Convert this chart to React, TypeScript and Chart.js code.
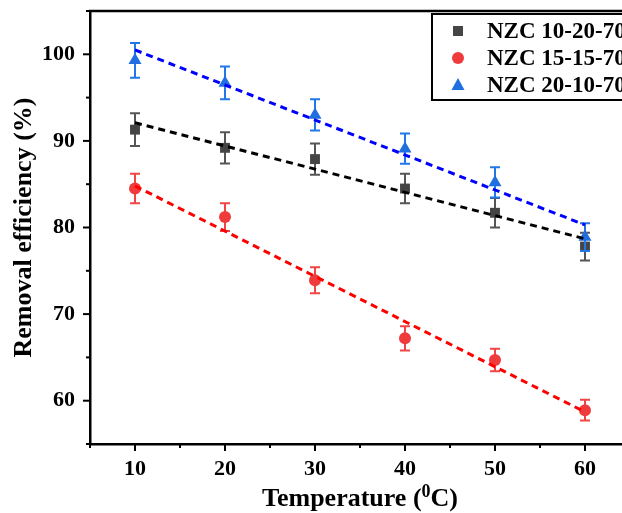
import React, { useEffect, useRef } from "react";
import { Chart, registerables } from "chart.js";
Chart.register(...registerables);

const temperatures = [10, 20, 30, 40, 50, 60];
const nzc102070 = [91.3, 89.2, 87.9, 84.5, 81.7, 77.8];
const nzc102070Err = [1.9, 1.8, 1.8, 1.7, 1.7, 1.6];
const nzc151570 = [84.5, 81.2, 73.9, 67.2, 64.7, 58.9];
const nzc151570Err = [1.7, 1.6, 1.5, 1.4, 1.3, 1.2];
const nzc201070 = [99.3, 96.7, 93.0, 89.1, 85.2, 78.9];
const nzc201070Err = [2.0, 1.9, 1.8, 1.75, 1.75, 1.6];
const fitX = [10, 60];
const fit102070 = [92.1, 78.7];
const fit151570 = [84.8, 58.7];
const fit201070 = [100.5, 80.3];
const seriesLabels = ["NZC 10-20-70", "NZC 15-15-70", "NZC 20-10-70"];
const xTickLabels = [10, 20, 30, 40, 50, 60];
const xMinorTicks = [5, 15, 25, 35, 45, 55, 65];
const yTickLabels = [60, 70, 80, 90, 100];
const yMinorTicks = [55, 65, 75, 85, 95, 105];
const xTitle = ["Temperature (", "0", "C)"];
const yTitle = "Removal efficiency (%)";

const FONT = '"Liberation Serif", "Times New Roman", serif';
const markerColors = ["#454545", "#ef3b3b", "#1f6fe0"];
const barColors = ["#555555", "#f04545", "#2277e6"];
const lineColors = ["#000000", "#ff0000", "#0000ff"];
const pointStyles = ["rect", "circle", "triangle"];
const errs = [nzc102070Err, nzc151570Err, nzc201070Err];

function drawMarker(ctx: CanvasRenderingContext2D, style: string, x: number, y: number, color: string) {
  ctx.save();
  ctx.fillStyle = color;
  ctx.beginPath();
  if (style === "rect") {
    ctx.rect(x - 5, y - 5, 10, 10);
  } else if (style === "circle") {
    ctx.arc(x, y, 6, 0, Math.PI * 2);
  } else {
    ctx.moveTo(x, y - 7);
    ctx.lineTo(x + 6.5, y + 5);
    ctx.lineTo(x - 6.5, y + 5);
    ctx.closePath();
  }
  ctx.fill();
  ctx.restore();
}

const decorPlugin = {
  id: "decor",
  beforeDatasetDraw(chart: any, args: any) {
    const ds = chart.data.datasets[args.index];
    if (ds.seriesIdx === undefined) return;
    const i = ds.seriesIdx;
    const ctx = chart.ctx;
    const xs = chart.scales.x;
    const ys = chart.scales.y;
    ctx.save();
    ctx.strokeStyle = barColors[i];
    ctx.lineWidth = 2;
    ds.data.forEach((p: any, k: number) => {
      const e = errs[i][k];
      const px = xs.getPixelForValue(p.x);
      const top = ys.getPixelForValue(p.y + e);
      const bot = ys.getPixelForValue(p.y - e);
      ctx.beginPath();
      ctx.moveTo(px, top);
      ctx.lineTo(px, bot);
      ctx.moveTo(px - 5, top);
      ctx.lineTo(px + 5, top);
      ctx.moveTo(px - 5, bot);
      ctx.lineTo(px + 5, bot);
      ctx.stroke();
    });
    ctx.restore();
  },
  afterDraw(chart: any) {
    const ctx = chart.ctx;
    const { left, right, top, bottom } = chart.chartArea;
    const xs = chart.scales.x;
    const ys = chart.scales.y;
    ctx.save();
    ctx.strokeStyle = "#000";
    ctx.lineWidth = 2.5;
    ctx.beginPath();
    ctx.moveTo(left - 1, top);
    ctx.lineTo(right, top);
    ctx.stroke();
    ctx.lineWidth = 2;
    const xTicks = [...xTickLabels.map((v) => [v, 7]), ...xMinorTicks.map((v) => [v, 4])];
    xTicks.forEach(([v, len]) => {
      const px = xs.getPixelForValue(v);
      ctx.beginPath();
      ctx.moveTo(px, bottom);
      ctx.lineTo(px, bottom + len);
      ctx.stroke();
    });
    const yTicks = [...yTickLabels.map((v) => [v, 7]), ...yMinorTicks.map((v) => [v, 4])];
    yTicks.forEach(([v, len]) => {
      const py = ys.getPixelForValue(v);
      ctx.beginPath();
      ctx.moveTo(left, py);
      ctx.lineTo(left - len, py);
      ctx.stroke();
    });
    ctx.fillStyle = "#000";
    ctx.save();
    ctx.translate(24, (top + bottom) / 2);
    ctx.rotate(-Math.PI / 2);
    ctx.font = `bold 26px ${FONT}`;
    ctx.textAlign = "center";
    ctx.textBaseline = "middle";
    ctx.fillText(yTitle, 0, 0);
    ctx.restore();
    ctx.font = `bold 26px ${FONT}`;
    const w1 = ctx.measureText(xTitle[0]).width;
    const w3 = ctx.measureText(xTitle[2]).width;
    ctx.font = `bold 18px ${FONT}`;
    const w2 = ctx.measureText(xTitle[1]).width;
    const total = w1 + w2 + w3;
    const x0 = (left + right) / 2 - total / 2;
    const base = 506;
    ctx.textAlign = "left";
    ctx.textBaseline = "alphabetic";
    ctx.font = `bold 26px ${FONT}`;
    ctx.fillText(xTitle[0], x0, base);
    ctx.font = `bold 18px ${FONT}`;
    ctx.fillText(xTitle[1], x0 + w1, base - 9);
    ctx.font = `bold 26px ${FONT}`;
    ctx.fillText(xTitle[2], x0 + w1 + w2, base);
    ctx.lineWidth = 2;
    ctx.strokeStyle = "#000";
    ctx.strokeRect(432, 14, 230, 86);
    const rows = [31, 58, 85];
    ctx.font = `bold 23px ${FONT}`;
    ctx.textBaseline = "middle";
    seriesLabels.forEach((lab, i) => {
      drawMarker(ctx, pointStyles[i], 458, rows[i], markerColors[i]);
      ctx.fillStyle = "#000";
      ctx.fillText(lab, 487, rows[i] + 1);
    });
    ctx.restore();
  },
};

export default function App() {
  const ref = useRef<HTMLCanvasElement | null>(null);
  useEffect(() => {
    if (!ref.current) return;
    const values = [nzc102070, nzc151570, nzc201070];
    const fits = [fit102070, fit151570, fit201070];
    const lineSets = fits.map((f, i) => ({
      type: "line",
      label: seriesLabels[i] + " fit",
      data: fitX.map((x, k) => ({ x, y: f[k] })),
      borderColor: lineColors[i],
      borderWidth: 3,
      borderDash: [7, 5],
      pointRadius: 0,
      fill: false,
      order: i,
    }));
    const markerSets = values.map((v, i) => ({
      type: "scatter",
      label: seriesLabels[i],
      seriesIdx: i,
      data: temperatures.map((x, k) => ({ x, y: v[k] })),
      pointStyle: pointStyles[i],
      pointRadius: i === 0 ? 7 : i === 1 ? 6 : 7.5,
      backgroundColor: markerColors[i],
      borderColor: markerColors[i],
      borderWidth: 0,
      order: 5 - i,
    }));
    const chart = new Chart(ref.current, {
      type: "scatter",
      data: { datasets: [...lineSets, ...markerSets] as any },
      options: {
        animation: false,
        responsive: false,
        devicePixelRatio: 1,
        layout: { autoPadding: false, padding: { left: 0, right: 10, top: 11, bottom: 0 } },
        plugins: { legend: { display: false }, tooltip: { enabled: false } },
        scales: {
          x: {
            type: "linear",
            min: 5,
            max: 65,
            grid: { display: false, drawTicks: false },
            border: { display: true, color: "#000", width: 2.5 },
            afterBuildTicks: (s: any) => {
              s.ticks = xTickLabels.map((v) => ({ value: v }));
            },
            ticks: {
              padding: 12,
              color: "#000",
              font: { family: FONT, size: 22, weight: "bold" },
              maxRotation: 0,
              autoSkip: false,
            },
            afterFit: (s: any) => {
              s.height = 69;
              s.paddingLeft = 0;
              s.paddingRight = 0;
              s.paddingTop = 0;
              s.paddingBottom = 0;
            },
          },
          y: {
            type: "linear",
            min: 55,
            max: 105,
            grid: { display: false, drawTicks: false },
            border: { display: true, color: "#000", width: 2.5 },
            afterBuildTicks: (s: any) => {
              s.ticks = yTickLabels.map((v) => ({ value: v }));
            },
            ticks: {
              padding: 15,
              color: "#000",
              font: { family: FONT, size: 22, weight: "bold" },
              autoSkip: false,
            },
            afterFit: (s: any) => {
              s.width = 90;
              s.paddingLeft = 0;
              s.paddingRight = 0;
              s.paddingTop = 0;
              s.paddingBottom = 0;
            },
          },
        },
      } as any,
      plugins: [decorPlugin],
    });
    return () => chart.destroy();
  }, []);
  return (
    <div style={{ position: "fixed", left: 0, top: 0, width: 622, height: 513, overflow: "hidden", background: "#fff" }}>
      <canvas ref={ref} width={640} height={513} style={{ display: "block" }} />
    </div>
  );
}
